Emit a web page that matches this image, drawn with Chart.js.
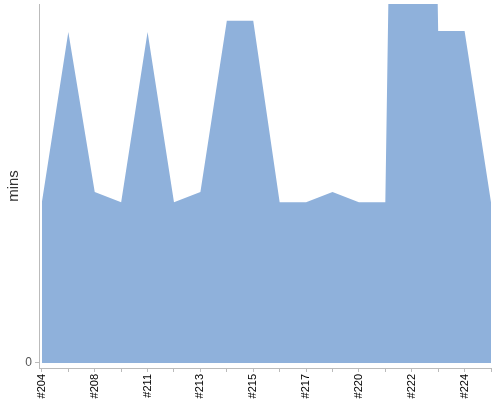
<!DOCTYPE html>
<html>
<head>
<meta charset="utf-8">
<script src="https://cdn.jsdelivr.net/npm/chart.js@4/dist/chart.umd.min.js"></script>
<style>
html,body{margin:0;padding:0;background:#fff;}
#wrap{width:500px;height:400px;}
</style>
</head>
<body>
<div id="wrap"><canvas id="c" width="500" height="400"></canvas></div>
<script>
const builds = ['#204','#206','#208','#210','#211','#212','#213','#214','#215','#216','#217','#219','#220','#221','#222','#223','#224','#225'];
const durationMins = [4.48, 9.22, 4.76, 4.48, 9.22, 4.48, 4.76, 9.53, 9.53, 4.48, 4.48, 4.76, 4.48, 4.48, 53, 9.25, 9.25, 4.48];
const yTickValues = [0];
const yMin = -0.14, yMax = 10;
const xMin = -0.11;

const points = durationMins.map((v, i) => ({x: i, y: v}));

new Chart(document.getElementById('c'), {
  type: 'line',
  data: {
    datasets: [{
      data: points,
      fill: 'origin',
      backgroundColor: 'rgb(143,177,219)',
      borderWidth: 0,
      borderColor: 'rgba(0,0,0,0)',
      pointRadius: 0,
      tension: 0
    }]
  },
  options: {
    responsive: false,
    animation: false,
    layout: {padding: {top: 4, right: 9, left: 0, bottom: 0}},
    plugins: {legend: {display: false}, tooltip: {enabled: false}},
    scales: {
      x: {
        type: 'linear',
        min: xMin,
        max: builds.length - 1,
        afterBuildTicks: s => { s.ticks = builds.map((b, i) => ({value: i})); },
        afterFit: s => { s.height = 32; s.paddingLeft = 0; s.paddingRight = 0; },
        border: {display: true, color: '#bbbbbb', width: 1},
        grid: {display: true, drawOnChartArea: false, drawTicks: true, tickLength: 4, color: '#bbbbbb'},
        ticks: {
          autoSkip: false,
          minRotation: 90,
          maxRotation: 90,
          padding: 2,
          color: '#000',
          font: {family: 'Liberation Sans', size: 11},
          callback: (v) => (v % 2 === 0 ? builds[v] : '')
        }
      },
      y: {
        min: yMin,
        max: yMax,
        afterBuildTicks: s => { s.ticks = yTickValues.map(v => ({value: v})); },
        afterFit: s => { s.width = 39; s.paddingTop = 0; s.paddingBottom = 0; },
        border: {display: true, color: '#bbbbbb', width: 1},
        grid: {display: true, drawOnChartArea: false, drawTicks: true, tickLength: 4, color: '#bbbbbb'},
        title: {display: true, text: 'mins', color: '#333', font: {family: 'Liberation Sans', size: 15}, padding: {top: 5, bottom: 0}},
        ticks: {
          color: '#555',
          padding: 3,
          font: {family: 'Liberation Sans', size: 12}
        }
      }
    }
  }
});
</script>
</body>
</html>
